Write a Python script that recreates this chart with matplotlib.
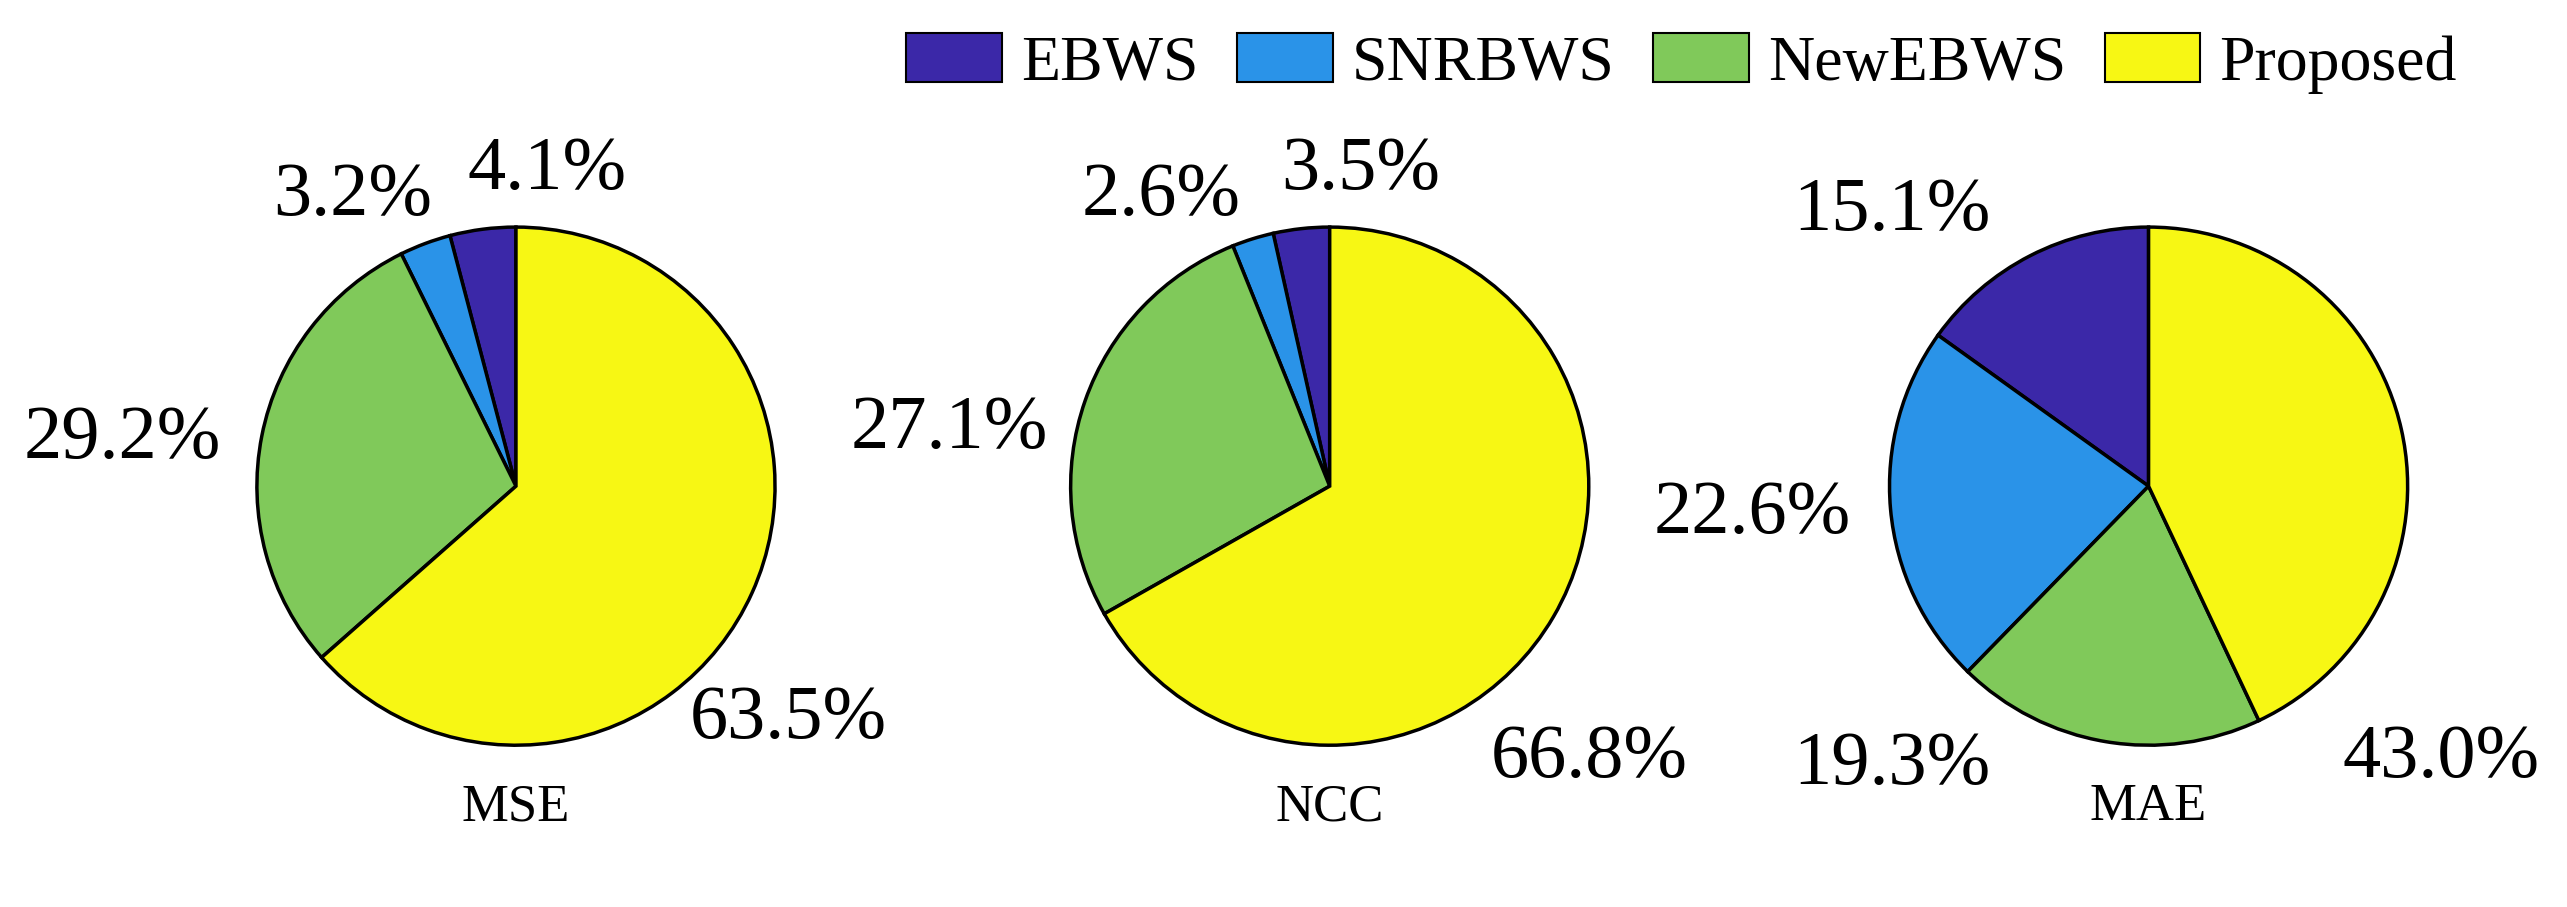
import matplotlib
matplotlib.use("Agg")
import matplotlib.pyplot as plt
from matplotlib.patches import Patch

plt.rcParams['font.family'] = ['Liberation Serif', 'DejaVu Serif']

methods = ["EBWS", "SNRBWS", "NewEBWS", "Proposed"]
colors = ["#3b28a8", "#2a93e8", "#80c95a", "#f7f714"]
metrics = ["MSE", "NCC", "MAE"]
values = {
    "MSE": [4.1, 3.2, 29.2, 63.5],
    "NCC": [3.5, 2.6, 27.1, 66.8],
    "MAE": [15.1, 22.6, 19.3, 43.0],
}
# label placement (in pie-radius units), layout only
label_pos = {
    "MSE": [(0.12, 1.22), (-0.63, 1.12), (-1.52, 0.18), (1.05, -0.90)],
    "NCC": [(0.12, 1.22), (-0.65, 1.12), (-1.47, 0.22), (1.00, -1.05)],
    "MAE": [(-0.99, 1.06), (-1.53, -0.11), (-0.99, -1.08), (1.13, -1.05)],
}

fig = plt.figure(figsize=(25.67, 9.07), dpi=100)
centers = [0.201, 0.518, 0.837]
for cx, m in zip(centers, metrics):
    ax = fig.add_axes([cx - 0.1615, 0.007, 0.323, 0.914])
    ax.pie(values[m], colors=colors, startangle=90, counterclock=True,
           wedgeprops=dict(edgecolor='black', linewidth=2.5))
    for v, (x, y) in zip(values[m], label_pos[m]):
        ax.text(x, y, f"{v:.1f}%", ha='center', va='center', fontsize=55)
    ax.set_xlim(-1.6, 1.6); ax.set_ylim(-1.6, 1.6); ax.set_aspect('equal')
    ax.axis('off')
    fig.text(cx, 0.11, m, ha='center', va='center', fontsize=38)

handles = [Patch(facecolor=c, edgecolor='black', linewidth=1.5) for c in colors]
fig.legend(handles, methods, loc='center', bbox_to_anchor=(0.655, 0.93), ncol=4,
           frameon=False, fontsize=46, handlelength=1.5, handleheight=0.8,
           columnspacing=0.6, handletextpad=0.3, borderaxespad=0)
fig.savefig("out.png", dpi=100)
